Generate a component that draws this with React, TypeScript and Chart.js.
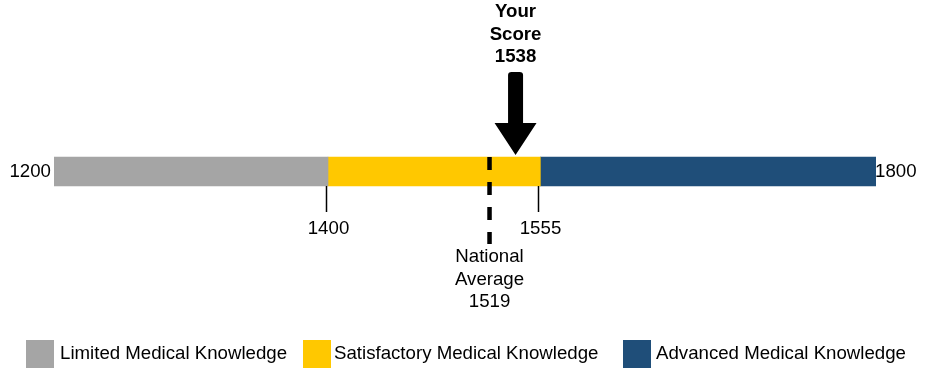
import React, { useEffect, useRef } from "react";
import { Chart, registerables } from "chart.js";

Chart.register(...registerables);

const scaleMin = 1200;
const scaleMax = 1800;
const bandLabels = ["Limited Medical Knowledge", "Satisfactory Medical Knowledge", "Advanced Medical Knowledge"];
const bandRanges: [number, number][] = [
  [1200, 1400],
  [1400, 1555],
  [1555, 1800],
];
const bandColors = ["#A5A5A5", "#FFC800", "#1F4E79"];
const cutTicks = [1400, 1555];
const nationalAverage = 1519;
const yourScore = 1538;

const FONT = "Arial, 'Liberation Sans', sans-serif";
const FS = 18.67;

// legend layout (pixels)
const legendBoxX = [26, 303, 623];
const legendTextX = [60, 334, 656];
const legendBoxTop = 340;
const legendBoxSize = 28;

const annotate = {
  id: "annotate",
  afterDatasetsDraw(chart: any) {
    const ctx = chart.ctx;
    const xs = chart.scales.x;
    const meta = chart.getDatasetMeta(0);
    const bar = meta.data[0];
    const half = bar.height / 2;
    const barTop = bar.y - half;
    const barBottom = bar.y + half;
    ctx.save();
    ctx.fillStyle = "#000";
    ctx.strokeStyle = "#000";
    ctx.font = `${FS}px ${FONT}`;
    ctx.textBaseline = "middle";

    // end labels
    ctx.textAlign = "right";
    ctx.fillText(String(scaleMin), xs.getPixelForValue(scaleMin) - 3, bar.y);
    ctx.textAlign = "left";
    ctx.fillText(String(scaleMax), xs.getPixelForValue(scaleMax) - 1, bar.y);

    // cut ticks
    ctx.textAlign = "center";
    ctx.lineWidth = 1.5;
    for (const t of cutTicks) {
      const px = Math.round(xs.getPixelForValue(t)) - 1.5;
      ctx.beginPath();
      ctx.moveTo(px, barBottom);
      ctx.lineTo(px, barBottom + 26);
      ctx.stroke();
      ctx.fillText(String(t), px + 2, barBottom + 43);
    }

    // national average dashed line
    const ax = xs.getPixelForValue(nationalAverage) - 1.5;
    ctx.lineWidth = 4.5;
    ctx.setLineDash([13, 12]);
    ctx.beginPath();
    ctx.moveTo(ax, barTop);
    ctx.lineTo(ax, barBottom + 58);
    ctx.stroke();
    ctx.setLineDash([]);
    const avgLines = ["National", "Average", String(nationalAverage)];
    avgLines.forEach((s, i) => ctx.fillText(s, ax, barBottom + 71 + i * 22.5));

    // your score arrow
    const sx = xs.getPixelForValue(yourScore) - 1.5;
    const tipY = barTop - 2;
    const headTop = tipY - 32;
    ctx.beginPath();
    ctx.moveTo(sx - 7.5, headTop);
    ctx.lineTo(sx - 7.5, tipY - 80);
    ctx.quadraticCurveTo(sx - 7.5, tipY - 83, sx - 4, tipY - 83);
    ctx.lineTo(sx + 4, tipY - 83);
    ctx.quadraticCurveTo(sx + 7.5, tipY - 83, sx + 7.5, tipY - 80);
    ctx.lineTo(sx + 7.5, headTop);
    ctx.lineTo(sx + 21, headTop);
    ctx.lineTo(sx, tipY);
    ctx.lineTo(sx - 21, headTop);
    ctx.closePath();
    ctx.fill();

    ctx.font = `bold ${FS}px ${FONT}`;
    const scoreLines = ["Your", "Score", String(yourScore)];
    scoreLines.forEach((s, i) => ctx.fillText(s, sx, 12 + i * 22.5));

    // legend
    ctx.font = `${FS}px ${FONT}`;
    ctx.textAlign = "left";
    bandLabels.forEach((label, i) => {
      ctx.fillStyle = bandColors[i];
      ctx.fillRect(legendBoxX[i], legendBoxTop, legendBoxSize, legendBoxSize);
      ctx.fillStyle = "#000";
      ctx.fillText(label, legendTextX[i], legendBoxTop + legendBoxSize / 2);
    });
    ctx.restore();
  },
};

export default function App() {
  const ref = useRef<HTMLCanvasElement | null>(null);
  useEffect(() => {
    if (!ref.current) return;
    const chart = new Chart(ref.current, {
      type: "bar",
      data: {
        labels: ["Score"],
        datasets: bandLabels.map((label, i) => ({
          label,
          data: [bandRanges[i]] as any,
          backgroundColor: bandColors[i],
          borderWidth: 0,
          barThickness: 29,
          grouped: false,
        })),
      },
      options: {
        indexAxis: "y",
        animation: false,
        responsive: false,
        maintainAspectRatio: false,
        layout: { padding: { left: 54, right: 60, top: 0, bottom: 31 } },
        scales: {
          x: { min: scaleMin, max: scaleMax, display: false },
          y: { display: false },
        },
        plugins: {
          tooltip: { enabled: false },
          legend: { display: false },
        },
      },
      plugins: [annotate],
    });
    return () => chart.destroy();
  }, []);
  return (
    <div style={{ position: "fixed", left: 0, top: 0, width: 936, height: 374, background: "#fff" }}>
      <canvas ref={ref} width={936} height={374} style={{ width: 936, height: 374 }} />
    </div>
  );
}
